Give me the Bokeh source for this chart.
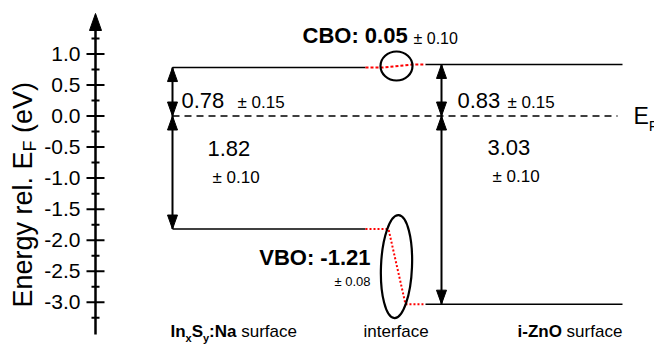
import math

from bokeh.core.properties import value
from bokeh.embed import file_html
from bokeh.models import Range1d
from bokeh.plotting import figure
from bokeh.resources import INLINE

# Band edges relative to the Fermi level (eV): [InxSy:Na surface, i-ZnO surface]
CBM = [0.78, 0.83]
VBM = [-1.82, -3.03]
CBM_ERR = [0.15, 0.15]      # error on CBM - E_F
VBM_ERR = [0.10, 0.10]      # error on E_F - VBM
CBO_ERR = 0.10
VBO_ERR = 0.08
E_F = 0.0

Y_TICKS = [1.0, 0.5, 0.0, -0.5, -1.0, -1.5, -2.0, -2.5, -3.0]
Y_MINOR_TICKS = [1.25, 0.75, 0.25, -0.25, -0.75, -1.25, -1.75, -2.25, -2.75, -3.25]

# ---- layout (pixels) ----
W, H = 654, 344
AXIS_X = 95          # column of the energy axis
Y0 = 115.5           # row of E_F
PX_PER_EV = 62.1
FONT = "Liberation Sans"
MID = 0.36           # digit centre above the baseline, in font sizes

X_LEFT_BAND = (172, 365)
X_RIGHT_BAND = (425, 622)
X_LEFT_ARROW = 172
X_RIGHT_ARROW = 441
X_INTERFACE = 396


def ev(row):
    """Pixel row -> energy on the y scale."""
    return (Y0 - row) / PX_PER_EV


p = figure(width=W, height=H, output_backend="svg", toolbar_location=None,
           x_range=Range1d(0, W), y_range=Range1d(ev(H), ev(0)),
           x_axis_location=None, y_axis_location=None, title=None,
           min_border=0, outline_line_color=None,
           background_fill_color="white", border_fill_color="white")
p.grid.visible = False


def heads(x, tips, length, half_w):
    """Filled triangular arrow heads; each tip comes with its direction (+1 up, -1 down)."""
    xs, ys = [], []
    for tip, direction in tips:
        base = tip - direction * length / PX_PER_EV
        xs.append([x - half_w, x + half_w, x])
        ys.append([base, base, tip])
    p.patches(xs, ys, fill_color="black", line_color="black", line_width=1)


# ---- energy axis: line, arrow head, ticks, tick labels ----
axis_top, axis_bot = ev(13), ev(334)
p.segment(x0=[AXIS_X], x1=[AXIS_X], y0=[axis_bot], y1=[axis_top - 10 / PX_PER_EV],
          line_color="black", line_width=2.5)
heads(AXIS_X, [(axis_top, 1)], 17, 6)
p.segment(x0=[AXIS_X - 9] * len(Y_TICKS), x1=[AXIS_X + 9] * len(Y_TICKS),
          y0=Y_TICKS, y1=Y_TICKS, line_color="black", line_width=2)
p.segment(x0=[AXIS_X - 4] * len(Y_MINOR_TICKS), x1=[AXIS_X + 4] * len(Y_MINOR_TICKS),
          y0=Y_MINOR_TICKS, y1=Y_MINOR_TICKS, line_color="black", line_width=2)
p.text(x=[AXIS_X - 15] * len(Y_TICKS), y=Y_TICKS, text=[f"{t:.1f}" for t in Y_TICKS],
       text_font=value(FONT), text_font_size=value("21px"), text_color="black",
       text_align=value("right"), text_baseline=value("middle"))

# band edges of both surfaces
p.segment(x0=[X_LEFT_BAND[0]] * 2 + [X_RIGHT_BAND[0]] * 2,
          x1=[X_LEFT_BAND[1]] * 2 + [X_RIGHT_BAND[1]] * 2,
          y0=[CBM[0], VBM[0], CBM[1], VBM[1]],
          y1=[CBM[0], VBM[0], CBM[1], VBM[1]],
          line_color="black", line_width=1.5)

# Fermi level
p.line([X_LEFT_BAND[0], 617], [E_F, E_F], line_color="black", line_width=1.5, line_dash="7 5")

# band offsets at the interface
p.line([X_LEFT_BAND[1], 382, 412, X_RIGHT_BAND[0]], [CBM[0], CBM[0], CBM[1], CBM[1]],
       line_color="red", line_width=2, line_dash="3 2")
p.line([X_LEFT_BAND[1], 388, 405, X_RIGHT_BAND[0]], [VBM[0], VBM[0], VBM[1], VBM[1]],
       line_color="red", line_width=2, line_dash="2 2")
p.ellipse(x=[X_INTERFACE, X_INTERFACE],
          y=[(CBM[0] + CBM[1]) / 2, (VBM[0] + VBM[1]) / 2],
          width=[32, 31], height=[29, 103], angle=[0.0, -0.04],
          width_units="screen", height_units="screen",
          fill_color=None, line_color="black", line_width=2.2)

# double-headed energy arrows
arrows = [(X_LEFT_ARROW, CBM[0], E_F), (X_LEFT_ARROW, E_F, VBM[0]),
          (X_RIGHT_ARROW, CBM[1], E_F), (X_RIGHT_ARROW, E_F, VBM[1])]
p.segment(x0=[a[0] for a in arrows], x1=[a[0] for a in arrows],
          y0=[a[1] for a in arrows], y1=[a[2] for a in arrows],
          line_color="black", line_width=2)
for x, top, bot in arrows:
    heads(x, [(top, 1), (bot, -1)], 14, 5)


def text(x, row, s, size, bold=False, align="left", vertical=False):
    """Place a text by its baseline (row) in pixels; vertical texts read bottom-to-top."""
    if vertical:
        x, angle = x - MID * size, math.pi / 2
    else:
        row, angle = row - MID * size, 0.0
    p.text(x=[x], y=[ev(row)], text=[s], text_font=value(FONT),
           text_font_size=value(f"{size}px"),
           text_font_style=value("bold" if bold else "normal"),
           text_align=value(align), text_baseline=value("middle"),
           text_color="black", angle=angle)


# axis title: Energy rel. E_F (eV)
text(32, 307, "Energy rel. E", 27, vertical=True)
text(36, 307 - 156.1, "F", 18, vertical=True)
text(32, 307 - 156.1 - 11.0 - 7.5, "(eV)", 27, vertical=True)

# values of the energy arrows
text(181, 108.3, f"{CBM[0]:.2f}", 22)
text(237, 108.3, f"\u00b1 {CBM_ERR[0]:.2f}", 17)
text(207, 156, f"{-VBM[0]:.2f}", 22)
text(212, 183, f"\u00b1 {VBM_ERR[0]:.2f}", 17)
text(457, 108.3, f"{CBM[1]:.2f}", 22)
text(507, 108.3, f"\u00b1 {CBM_ERR[1]:.2f}", 17)
text(487, 155, f"{-VBM[1]:.2f}", 22)
text(492, 181.7, f"\u00b1 {VBM_ERR[1]:.2f}", 17)

# band offsets
text(302, 43.3, f"CBO: {CBM[1] - CBM[0]:.2f}", 22, bold=True)
text(413, 43.3, f"\u00b1 {CBO_ERR:.2f}", 16)
text(370, 265, f"VBO: {VBM[1] - VBM[0]:.2f}", 22, bold=True, align="right")
text(370, 286, f"\u00b1 {VBO_ERR:.2f}", 13, align="right")

# Fermi level label
text(633, 124, "E", 23)
text(648.3, 130, "F", 15)

# bottom captions
text(170, 337, "In", 17, bold=True)
text(185.1, 341, "x", 11, bold=True)
text(191.2, 337, "S", 17, bold=True)
text(202.5, 341, "y", 11, bold=True)
text(208.6, 337, ":Na", 17, bold=True)
text(240.7, 337, "surface", 17)
text(363, 337, "interface", 17)
text(517, 337, "i-ZnO", 17, bold=True)
text(566.1, 337, "surface", 17)

open("out.html", "w").write(file_html(p, INLINE))
